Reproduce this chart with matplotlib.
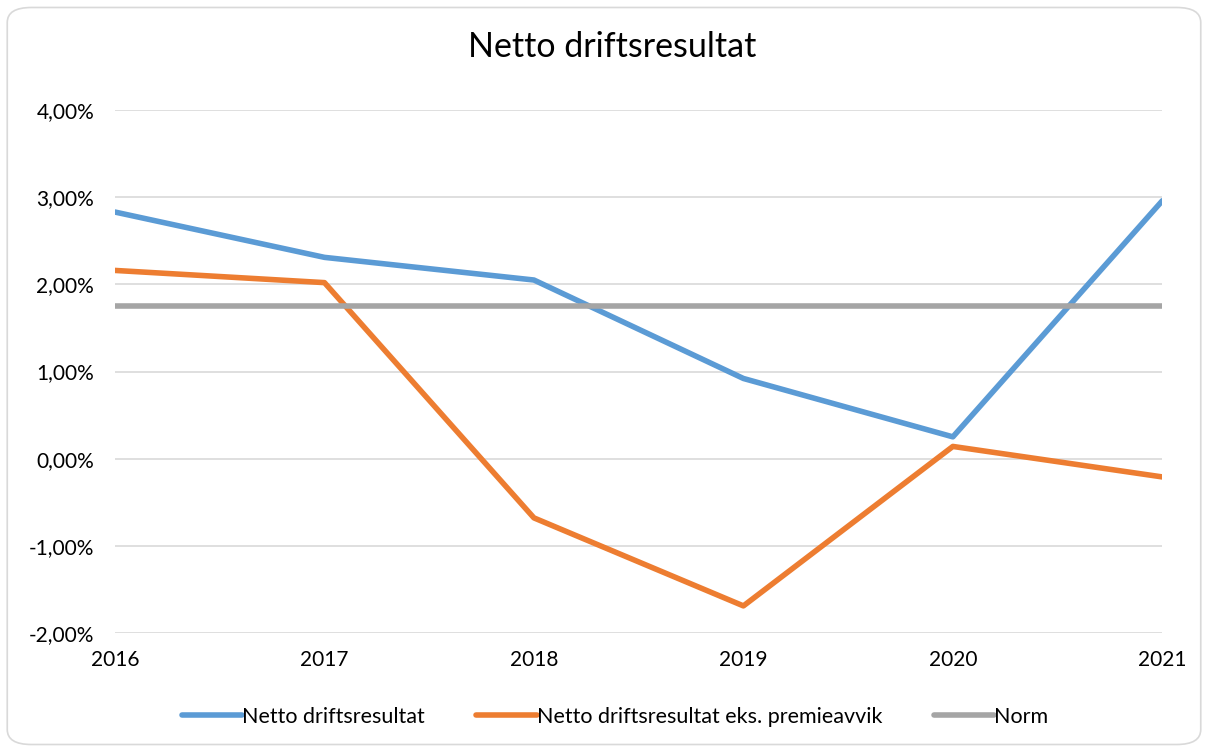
import matplotlib.pyplot as plt
from matplotlib.patches import FancyBboxPatch
from matplotlib.ticker import FuncFormatter

# Data (prosent)
years = [2016, 2017, 2018, 2019, 2020, 2021]
netto = [2.83, 2.31, 2.05, 0.92, 0.25, 2.96]
netto_eks = [2.16, 2.02, -0.68, -1.69, 0.14, -0.21]
norm = [1.75, 1.75, 1.75, 1.75, 1.75, 1.75]

plt.rcParams['font.family'] = ['Lato', 'DejaVu Sans']

fig = plt.figure(figsize=(12.08, 7.49), dpi=100)
ax = fig.add_axes([0.0952, 0.155, 0.867, 0.698])

# ramme rundt diagrammet
fig.patches.append(FancyBboxPatch((0.006, 0.006), 0.988, 0.984,
                                  boxstyle="round,pad=0,rounding_size=0.02",
                                  transform=fig.transFigure, fill=False,
                                  edgecolor='#d9d9d9', linewidth=1.2))

ax.plot(years, netto, color='#5b9bd5', lw=4, label='Netto driftsresultat', solid_capstyle='round')
ax.plot(years, netto_eks, color='#ed7d31', lw=4, label='Netto driftsresultat eks. premieavvik', solid_capstyle='round')
ax.plot(years, norm, color='#a5a5a5', lw=4, label='Norm', solid_capstyle='round')

ax.set_xlim(2016, 2021)
ax.set_ylim(-2, 4)
ax.set_yticks(range(-2, 5))
ax.set_xticks(years)
ax.yaxis.set_major_formatter(FuncFormatter(lambda v, p: f"{v:.2f}%".replace('.', ',')))
ax.grid(axis='y', color='#d9d9d9', lw=1.2)
ax.set_axisbelow(True)
for s in ax.spines.values():
    s.set_visible(False)
ax.tick_params(length=0, labelsize=15, colors='black')
ax.tick_params(axis='x', pad=12)
ax.tick_params(axis='y', pad=15)

fig.suptitle('Netto driftsresultat', x=0.507, y=0.958, fontsize=24.5)
fig.legend(loc='center', bbox_to_anchor=(0.509, 0.043), ncol=3, frameon=False,
           fontsize=15.5, handlelength=2.8, handletextpad=0.0, columnspacing=2.4)

fig.savefig('out.png', dpi=100)
